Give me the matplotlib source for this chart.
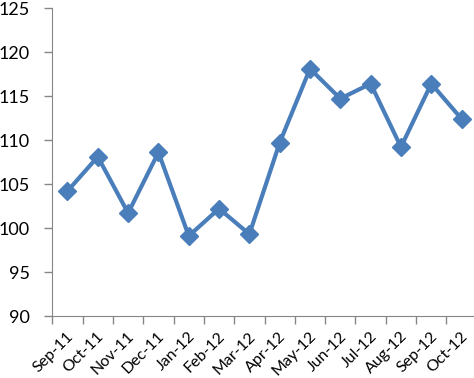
import matplotlib.pyplot as plt
import matplotlib.transforms as mtransforms
import numpy as np

# Monthly index values
months = ["Sep-11", "Oct-11", "Nov-11", "Dec-11", "Jan-12", "Feb-12", "Mar-12",
          "Apr-12", "May-12", "Jun-12", "Jul-12", "Aug-12", "Sep-12", "Oct-12"]
values = [104.2, 108.1, 101.7, 108.6, 99.1, 102.2, 99.3,
          109.7, 118.1, 114.7, 116.4, 109.2, 116.4, 112.4]
yticks = [90, 95, 100, 105, 110, 115, 120, 125]

plt.rcParams['font.family'] = ['Lato', 'DejaVu Sans']

fig = plt.figure(figsize=(4.74, 3.78), dpi=100)
ax = fig.add_axes([0.1104, 0.164, 0.8954, 0.8148])

x = np.arange(len(months))
ax.plot(x, values, color='#4a7ebb', linewidth=3, marker='D', markersize=9,
        markerfacecolor='#4a7ebb', markeredgecolor='#4a7ebb')

ax.set_xlim(-0.5, len(months) - 0.5)
ax.set_ylim(90, 125)
ax.set_yticks(yticks)
ax.set_xticks(x)
ax.set_xticklabels(months, rotation=45, ha='right', va='center', rotation_mode='anchor')
ax.set_xticks(np.arange(len(months) + 1) - 0.5, minor=True)
ax.tick_params(axis='x', which='major', length=0, labelsize=11.5, pad=13)
ax.tick_params(axis='x', which='minor', length=6, color='#868686', width=1)
ax.tick_params(axis='y', length=6, color='#868686', width=1, labelsize=13, pad=10)

# shift the rotated month labels a little to the right, like the original
shift = mtransforms.ScaledTranslation(4 / 100, 0, fig.dpi_scale_trans)
for lab in ax.get_xticklabels():
    lab.set_transform(lab.get_transform() + shift)

for side in ['top', 'right']:
    ax.spines[side].set_visible(False)
for side in ['left', 'bottom']:
    ax.spines[side].set_color('#868686')

plt.savefig("out.png", dpi=100)
